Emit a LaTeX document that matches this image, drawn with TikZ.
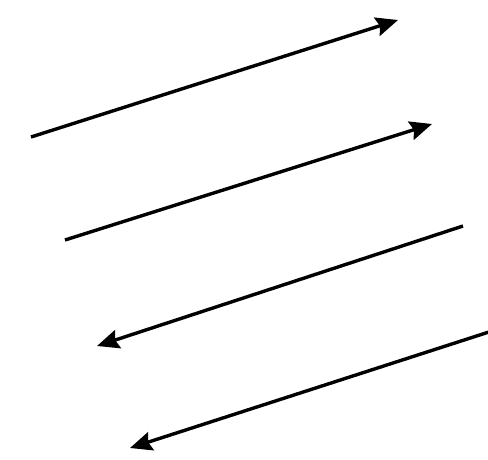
\documentclass[tikz,border=0pt]{standalone}
\usetikzlibrary{arrows.meta}

\begin{document}
\begin{tikzpicture}[
 x=1pt,y=-1pt,
 vec/.style={line width=3.4pt,-{Stealth[length=22pt,width=19pt,inset=3pt]}}
]
\useasboundingbox (0,0) rectangle (488,459);
% upper pair, pointing right
\coordinate (a1) at (31,137);  \coordinate (b1) at (398,20);
\coordinate (a2) at (65,240);  \coordinate (b2) at (432,124);
% lower pair, pointing left
\coordinate (a3) at (463,226); \coordinate (b3) at (97,346);
\coordinate (a4) at (492,331); \coordinate (b4) at (130,448);
\draw[vec] (a1)--(b1);
\draw[vec] (a2)--(b2);
\draw[vec] (a3)--(b3);
\draw[vec] (a4)--(b4);
\end{tikzpicture}
\end{document}
